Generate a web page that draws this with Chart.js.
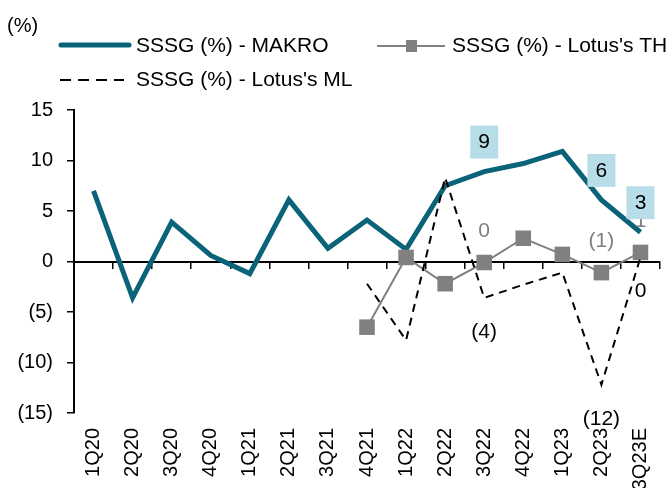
<!DOCTYPE html>
<html>
<head>
<meta charset="utf-8">
<script src="https://cdn.jsdelivr.net/npm/chart.js@4.4.0/dist/chart.umd.min.js"></script>
<style>
    html, body { margin: 0; padding: 0; background: #fff; }
    #wrap { width: 671px; height: 488px; position: relative; overflow: hidden; }
</style>
</head>
<body>
<div id="wrap"><canvas id="sssgChart" width="671" height="488"></canvas></div>
<script>
// Dữ liệu
const categories = ['1Q20', '2Q20', '3Q20', '4Q20', '1Q21', '2Q21', '3Q21', '4Q21',
    '1Q22', '2Q22', '3Q22', '4Q22', '1Q23', '2Q23', '3Q23E'];
const makro   = [7.0, -3.6, 3.9, 0.6, -1.2, 6.1, 1.3, 4.1, 1.2, 7.5, 8.9, 9.7, 10.9, 6.1, 2.9];
const lotusTH = [null, null, null, null, null, null, null, -6.5, 0.4, -2.2, -0.1, 2.3, 0.7, -1.1, 0.9];
const lotusML = [null, null, null, null, null, null, null, -2.2, -7.8, 8.3, -3.6, -2.3, -1.1, -12.2, 0.4];
const yTicks = [-15, -10, -5, 0, 5, 10, 15];

// Các điểm có nhãn
const makroLabelIdx = [10, 13, 14];
const thLabelIdx = [10, 13, 14];
const mlLabelIdx = [10, 13, 14];

const MAKRO_COLOR = '#0b6379';
const TH_COLOR = '#808080';
const BOX_COLOR = '#b7dde8';
const FONT = '"Liberation Sans", Arial, sans-serif';

function fmt(v) {
    const r = Math.round(v);
    if (r < 0) return '(' + (-r) + ')';
    return String(Math.abs(r));
}

// Bỏ phần đệm ngang mà nhãn trục tự thêm vào
function noSidePadding(scale) {
    scale.paddingLeft = 0;
    scale.paddingRight = 0;
}

// Vẽ nhãn dữ liệu
const labelPlugin = {
    id: 'labelPlugin',
    afterDatasetsDraw(chart) {
        const ctx = chart.ctx;
        ctx.save();
        ctx.font = '21px ' + FONT;
        ctx.textAlign = 'center';
        ctx.textBaseline = 'middle';

        const thMeta = chart.getDatasetMeta(1);
        ctx.fillStyle = '#7f7f7f';
        thLabelIdx.forEach(i => {
            const p = thMeta.data[i];
            ctx.fillText(fmt(lotusTH[i]), p.x, p.y - 31);
        });

        const mlMeta = chart.getDatasetMeta(2);
        ctx.fillStyle = '#000';
        mlLabelIdx.forEach(i => {
            const p = mlMeta.data[i];
            ctx.fillText(fmt(lotusML[i]), p.x, p.y + 34);
        });

        const mkMeta = chart.getDatasetMeta(0);
        makroLabelIdx.forEach(i => {
            const p = mkMeta.data[i];
            const cy = p.y - 30;
            ctx.fillStyle = BOX_COLOR;
            ctx.fillRect(p.x - 14, cy - 16, 28, 33);
            ctx.fillStyle = '#000';
            ctx.fillText(fmt(makro[i]), p.x, cy + 1);
        });
        ctx.restore();
    }
};

// Chú thích
const legendPlugin = {
    id: 'legendPlugin',
    afterDraw(chart) {
        const ctx = chart.ctx;
        ctx.save();
        ctx.fillStyle = '#000';
        ctx.textBaseline = 'middle';
        ctx.textAlign = 'left';
        ctx.font = '20px ' + FONT;
        ctx.fillText('(%)', 7, 26);

        ctx.font = '21px ' + FONT;
        // MAKRO
        ctx.strokeStyle = MAKRO_COLOR;
        ctx.lineWidth = 5;
        ctx.lineCap = 'round';
        ctx.beginPath(); ctx.moveTo(61, 45); ctx.lineTo(129, 45); ctx.stroke();
        ctx.fillText('SSSG (%) - MAKRO', 136, 46);

        // Lotus's TH
        ctx.strokeStyle = TH_COLOR;
        ctx.lineWidth = 2;
        ctx.lineCap = 'butt';
        ctx.beginPath(); ctx.moveTo(377, 46); ctx.lineTo(445, 46); ctx.stroke();
        ctx.fillStyle = TH_COLOR;
        ctx.fillRect(406, 40, 11, 12);
        ctx.fillStyle = '#000';
        ctx.fillText("SSSG (%) - Lotus's TH", 452, 46);

        // Lotus's ML
        ctx.strokeStyle = '#000';
        ctx.lineWidth = 2;
        ctx.setLineDash([11, 7]);
        ctx.beginPath(); ctx.moveTo(60, 80); ctx.lineTo(124, 80); ctx.stroke();
        ctx.setLineDash([]);
        ctx.fillText("SSSG (%) - Lotus's ML", 136, 80);
        ctx.restore();
    }
};

new Chart(document.getElementById('sssgChart'), {
    type: 'line',
    data: {
        labels: categories,
        datasets: [{
            label: 'SSSG (%) - MAKRO',
            data: makro,
            borderColor: MAKRO_COLOR,
            borderWidth: 5,
            pointRadius: 0,
            tension: 0,
            order: 3
        }, {
            label: "SSSG (%) - Lotus's TH",
            data: lotusTH,
            borderColor: TH_COLOR,
            borderWidth: 2,
            pointStyle: 'rect',
            pointRadius: 11,
            pointBackgroundColor: TH_COLOR,
            pointBorderColor: TH_COLOR,
            pointBorderWidth: 0,
            tension: 0,
            order: 2
        }, {
            label: "SSSG (%) - Lotus's ML",
            data: lotusML,
            borderColor: '#000',
            borderWidth: 2,
            borderDash: [8, 6],
            pointRadius: 0,
            tension: 0,
            order: 1
        }]
    },
    options: {
        responsive: false,
        animation: false,
        devicePixelRatio: 1,
        layout: { padding: { top: 110, right: 11, left: 0, bottom: 0 } },
        plugins: {
            legend: { display: false },
            tooltip: { enabled: false }
        },
        scales: {
            x: {
                type: 'category',
                labels: categories,
                position: { y: 0 },
                offset: true,
                grid: {
                    offset: true,
                    drawOnChartArea: false,
                    drawTicks: true,
                    tickLength: 6,
                    color: '#000',
                    lineWidth: 1.5
                },
                border: { color: '#000', width: 2 },
                ticks: { display: false },
                afterFit: noSidePadding
            },
            x2: {
                type: 'category',
                labels: categories,
                position: 'bottom',
                offset: true,
                grid: { display: false, drawTicks: false },
                border: { display: false },
                ticks: {
                    minRotation: 90,
                    maxRotation: 90,
                    autoSkip: false,
                    padding: 15,
                    color: '#000',
                    font: { family: FONT, size: 20 }
                },
                afterFit(scale) {
                    scale.height = 75;
                    noSidePadding(scale);
                }
            },
            y: {
                min: -15,
                max: 15,
                afterBuildTicks(scale) { scale.ticks = yTicks.map(v => ({ value: v })); },
                ticks: {
                    callback: v => fmt(v),
                    padding: 14,
                    color: '#000',
                    font: { family: FONT, size: 20 }
                },
                grid: {
                    drawOnChartArea: false,
                    tickLength: 7,
                    color: '#000',
                    lineWidth: 1.5
                },
                border: { color: '#000', width: 2 },
                afterFit(scale) { scale.width = 74; }
            }
        }
    },
    plugins: [labelPlugin, legendPlugin]
});
</script>
</body>
</html>
